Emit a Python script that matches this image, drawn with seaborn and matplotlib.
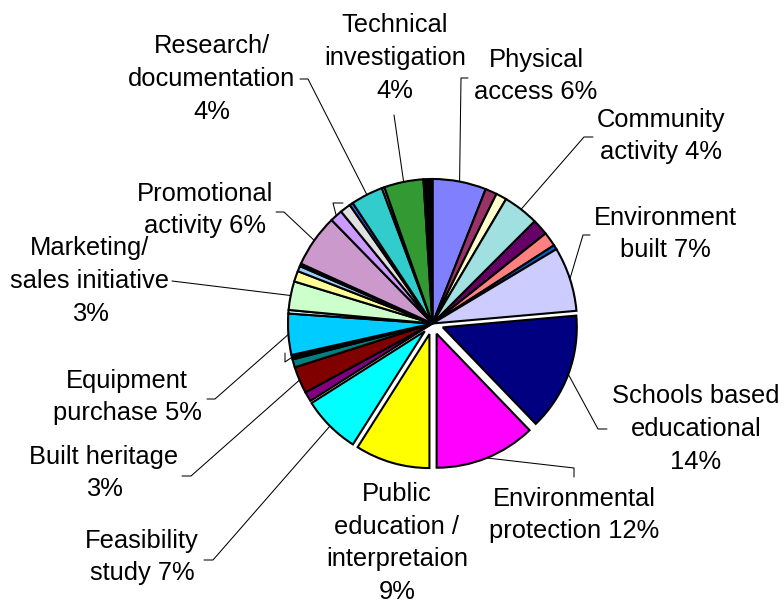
import numpy as np
import pandas as pd
import seaborn as sns
import matplotlib.pyplot as plt

sns.set_theme(style='white')
plt.rcParams['font.family'] = ['Liberation Sans', 'DejaVu Sans']

# ============================================================
# 数据（顺时针，从12点开始）
# ============================================================
slice_labels = ['Physical\naccess {}%', '', '', 'Community\nactivity {}%', '', '', '',
                'Environment\nbuilt {}%', 'Schools based\neducational\n{}%',
                'Environmental\nprotection {}%', 'Public\neducation /\ninterpretaion\n{}%',
                'Feasibility\nstudy {}%', '', 'Built heritage\n{}%', '', '',
                'Equipment\npurchase {}%', '', 'Marketing/\nsales initiative\n{}%',
                '', '', '', 'Promotional\nactivity {}%', '', '', '',
                'Research/\ndocumentation\n{}%', '', 'Technical\ninvestigation\n{}%', '']
slice_values = [6, 1.3, 1.2, 4, 1.8, 1.6, 0.5,
                7.2, 14.2,
                12.2, 9,
                7, 1.1, 3, 0.9, 0.5,
                4.6, 0.4, 3.2,
                1.2, 0.6, 0.3, 5.9, 1.4, 1.2, 0.4,
                3.6, 0.3, 4.4, 1.0]
slice_colors = ['#8080FF', '#993366', '#FFFFCC', '#A0E0E0', '#660066', '#FF8080', '#0066CC',
                '#CCCCFF', '#000080',
                '#FF00FF', '#FFFF00',
                '#00FFFF', '#800080', '#800000', '#008080', '#000000',
                '#00CCFF', '#CCFFFF', '#CCFFCC',
                '#FFFF99', '#99CCFF', '#000000', '#CC99CC', '#CC99FF', '#E0E0E0', '#3366FF',
                '#33CCCC', '#C0C0C0', '#339933', '#000000']
exploded = [8, 9, 10, 11]

# 标签位置（像素坐标）：文字中心，引线起点，拐点
label_pos = {
    0: ((536, 76), (468, 78), (461, 78)),
    3: ((661, 136), (593, 137), (584, 137)),
    7: ((665, 234), (590, 235), (583, 235)),
    8: ((696, 429), (607, 429), (598, 429)),
    9: ((574, 515), (574, 477), (574, 468)),
    10: ((397, 543), None, None),
    11: ((142, 557), (204, 560), (213, 560)),
    13: ((104, 473), (182, 476), (191, 476)),
    16: ((127, 397), (207, 399), (215, 399)),
    18: ((90, 281), (172, 281), (172, 281)),
    22: ((205, 210), (276, 212), (284, 212)),
    26: ((212, 79), (300, 79), (308, 79)),
    28: ((395, 58), (394, 115), (394, 115)),
}
# 空标签的引线
empty_leaders = {23: ((343, 203), (333, 203)), 15: ((285, 353), (285, 362))}

# ============================================================
# 绘图
# ============================================================
fig = plt.figure(figsize=(7.84, 6.03), dpi=100)
ax = fig.add_axes([0, 0, 1, 1])

# explode 在数据坐标（像素）中
explode = [11 if i in exploded else 0 for i in range(len(slice_values))]
wedges, _ = ax.pie(slice_values, colors=sns.color_palette(slice_colors),
                   explode=explode, startangle=-90, counterclock=True,
                   radius=144.5, center=(432.5, 323.5),
                   wedgeprops=dict(edgecolor='black', linewidth=1.5))
# 分离的扇区半径稍小
for i in exploded:
    wedges[i].set_radius(134)

ax.set_xlim(0, 784)
ax.set_ylim(603, 0)
ax.set_aspect('equal')
ax.axis('off')


def edge_point(w):
    t = np.deg2rad((w.theta1 + w.theta2) / 2)
    return w.center[0] + w.r * np.cos(t), w.center[1] + w.r * np.sin(t)


for i, (txt_xy, a, b) in label_pos.items():
    ax.text(txt_xy[0], txt_xy[1], slice_labels[i].format(round(slice_values[i])),
            ha='center', va='center', fontsize=18.4, linespacing=1.45, color='black')
    if a is not None:
        px, py = edge_point(wedges[i])
        ax.plot([a[0], b[0], px], [a[1], b[1], py], color='black', lw=0.75)

for i, (a, b) in empty_leaders.items():
    px, py = edge_point(wedges[i])
    ax.plot([a[0], b[0], px], [a[1], b[1], py], color='black', lw=0.75)

plt.savefig('out.png', dpi=100)
